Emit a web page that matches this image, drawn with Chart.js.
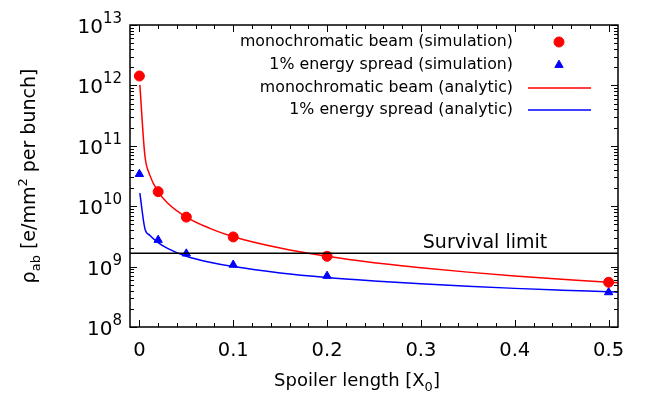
<!DOCTYPE html>
<html lang="en">
<head>
  <meta charset="UTF-8" />
  <title>Spoiler energy density</title>
  <script src="https://cdn.jsdelivr.net/npm/chart.js"></script>
  <style>
    html, body { margin: 0; padding: 0; background: #fff; }
    #wrap { width: 654px; height: 393px; position: relative; }
  </style>
</head>
<body>
  <div id="wrap"><canvas id="chart"></canvas></div>

  <script>
    // simulated points (spoiler length in X0)
    const xSim = [0, 0.02, 0.05, 0.1, 0.2, 0.5];
    const monoSim = [1.43e12, 1.74e10, 6.6e9, 3.1e9, 1.48e9, 5.5e8];
    const spreadSim = [3.4e10, 2.76e9, 1.64e9, 1.07e9, 7.0e8, 3.75e8];

    // analytic curves
    const xCurve = [0.0005, 0.0058, 0.011, 0.02, 0.03, 0.05, 0.075, 0.1, 0.15, 0.2, 0.25, 0.3, 0.35, 0.4, 0.45, 0.5, 0.51];
    const monoCurve = [1.02e12, 7.05e10, 3.3e10, 1.74e10, 1.13e10, 6.6e9, 4.3e9, 3.13e9, 2.03e9, 1.48e9, 1.16e9, 9.6e8, 8.1e8, 7.0e8, 6.2e8, 5.5e8, 5.4e8];
    const spreadCurve = [1.64e10, 4.3e9, 3.3e9, 2.5e9, 2.0e9, 1.48e9, 1.18e9, 1.0e9, 7.85e8, 6.6e8, 5.8e8, 5.2e8, 4.73e8, 4.36e8, 4.07e8, 3.82e8, 3.77e8];

    const survivalLimit = 1.66e9;
    const xRange = [-0.01, 0.51];
    const yRange = [1e8, 1e13];

    const xTicks = [0, 0.1, 0.2, 0.3, 0.4, 0.5];
    const xTickLabels = ["0", "0.1", "0.2", "0.3", "0.4", "0.5"];
    const yTickExps = [8, 9, 10, 11, 12, 13];

    const legendLabels = [
      "monochromatic beam (simulation)",
      "1% energy spread (simulation)",
      "monochromatic beam (analytic)",
      "1% energy spread (analytic)"
    ];

    const FONT = '"DejaVu Sans", sans-serif';

    function pts(xs, ys) {
      return xs.map((x, i) => ({ x: x, y: ys[i] }));
    }

    // frame, inward ticks, tick labels, titles, legend
    const decor = {
      id: "decor",
      afterDatasetsDraw(chart) {
        const ctx = chart.ctx;
        const a = chart.chartArea;
        const xs = chart.scales.x, ys = chart.scales.y;
        ctx.save();
        ctx.strokeStyle = "#000";
        ctx.lineWidth = 1;

        // x ticks, mirrored top
        for (let k = 0; k <= 25; k++) {
          const v = k * 0.02;
          const px = Math.round(xs.getPixelForValue(v)) + 0.5;
          const len = (k % 5 === 0) ? 7 : 4;
          ctx.beginPath();
          ctx.moveTo(px, a.bottom); ctx.lineTo(px, a.bottom - len);
          ctx.moveTo(px, a.top); ctx.lineTo(px, a.top + len);
          ctx.stroke();
        }
        // y ticks, mirrored right
        for (let e = 8; e <= 12; e++) {
          for (let m = 1; m <= 10; m++) {
            if (m === 10 && e < 12) continue;
            const v = m * Math.pow(10, e);
            const py = Math.round(ys.getPixelForValue(v)) + 0.5;
            const len = (m === 1 || m === 10) ? 7 : 4;
            ctx.beginPath();
            ctx.moveTo(a.left, py); ctx.lineTo(a.left + len, py);
            ctx.moveTo(a.right, py); ctx.lineTo(a.right - len, py);
            ctx.stroke();
          }
        }
        // frame
        ctx.lineWidth = 1.5;
        ctx.strokeRect(a.left, a.top, a.right - a.left, a.bottom - a.top);

        ctx.fillStyle = "#000";
        ctx.textBaseline = "alphabetic";

        // x tick labels
        ctx.font = "19.5px " + FONT;
        ctx.textAlign = "center";
        xTicks.forEach((v, i) => {
          ctx.fillText(xTickLabels[i], xs.getPixelForValue(v), 356);
        });

        // y tick labels 10^n
        yTickExps.forEach(e => {
          const py = ys.getPixelForValue(Math.pow(10, e));
          ctx.font = "20px " + FONT;
          const wb = ctx.measureText("10").width;
          ctx.font = "15px " + FONT;
          const we = ctx.measureText(String(e)).width;
          const right = 122;
          ctx.textAlign = "left";
          ctx.font = "20px " + FONT;
          ctx.fillText("10", right - wb - we, py + 8);
          ctx.font = "15px " + FONT;
          ctx.fillText(String(e), right - we, py - 2);
        });

        // x title with subscript
        const xParts = [["Spoiler length [X", 18, 0], ["0", 13, 5], ["]", 18, 0]];
        drawParts(ctx, xParts, 357, 386);

        // y title, rotated
        ctx.save();
        ctx.translate(35, (a.top + a.bottom) / 2);
        ctx.rotate(-Math.PI / 2);
        const yParts = [["\u03C1", 19, 0], ["ab", 13, 5], [" [e/mm", 19, 0], ["2", 13, -8], [" per bunch]", 19, 0]];
        drawParts(ctx, yParts, 0, 0);
        ctx.restore();

        // survival limit label
        ctx.font = "19px " + FONT;
        ctx.textAlign = "center";
        ctx.fillText("Survival limit", 485, 248);

        // legend
        const ds = chart.data.datasets;
        const rows = [42, 65, 88, 110];
        ctx.font = "15.8px " + FONT;
        ctx.textAlign = "right";
        ctx.textBaseline = "middle";
        for (let i = 0; i < 4; i++) {
          ctx.fillStyle = "#000";
          ctx.fillText(legendLabels[i], 513, rows[i]);
          const d = ds[i];
          if (d.showLine === false) {
            ctx.fillStyle = d.backgroundColor;
            ctx.strokeStyle = d.borderColor;
            ctx.lineWidth = 1;
            Chart.helpers.drawPoint(ctx, { pointStyle: d.pointStyle, radius: d.pointRadius, rotation: 0, borderWidth: 1 }, 559, rows[i]);
          } else {
            ctx.strokeStyle = d.borderColor;
            ctx.lineWidth = d.borderWidth;
            ctx.beginPath();
            ctx.moveTo(528, rows[i]); ctx.lineTo(591, rows[i]);
            ctx.stroke();
          }
        }
        ctx.restore();
      }
    };

    function drawParts(ctx, parts, cx, baseY) {
      let total = 0;
      parts.forEach(p => { ctx.font = p[1] + "px " + FONT; total += ctx.measureText(p[0]).width; });
      let x = cx - total / 2;
      ctx.textAlign = "left";
      ctx.textBaseline = "alphabetic";
      parts.forEach(p => {
        ctx.font = p[1] + "px " + FONT;
        ctx.fillText(p[0], x, baseY + p[2]);
        x += ctx.measureText(p[0]).width;
      });
    }

    new Chart(document.getElementById("chart"), {
      type: "line",
      data: {
        datasets: [
          {
            label: legendLabels[0],
            data: pts(xSim, monoSim),
            showLine: false,
            pointStyle: "circle",
            pointRadius: 5,
            backgroundColor: "#ff0000",
            borderColor: "#ff0000",
            pointBorderWidth: 1,
            order: 1
          },
          {
            label: legendLabels[1],
            data: pts(xSim, spreadSim),
            showLine: false,
            pointStyle: "triangle",
            pointRadius: 4.8,
            backgroundColor: "#0000ff",
            borderColor: "#0000ff",
            pointBorderWidth: 1,
            order: 2
          },
          {
            label: legendLabels[2],
            data: pts(xCurve, monoCurve),
            borderColor: "#ff0000",
            borderWidth: 1.5,
            pointRadius: 0,
            cubicInterpolationMode: "monotone",
            fill: false,
            order: 3
          },
          {
            label: legendLabels[3],
            data: pts(xCurve, spreadCurve),
            borderColor: "#0000ff",
            borderWidth: 1.5,
            pointRadius: 0,
            cubicInterpolationMode: "monotone",
            fill: false,
            order: 4
          },
          {
            label: "Survival limit",
            data: pts(xRange, [survivalLimit, survivalLimit]),
            borderColor: "#000000",
            borderWidth: 1.5,
            pointRadius: 0,
            fill: false,
            order: 0
          }
        ]
      },
      options: {
        responsive: true,
        maintainAspectRatio: false,
        animation: false,
        layout: { padding: { left: 130, right: 36, top: 25, bottom: 66 } },
        scales: {
          x: { type: "linear", min: xRange[0], max: xRange[1], display: false },
          y: { type: "logarithmic", min: yRange[0], max: yRange[1], display: false }
        },
        plugins: {
          legend: { display: false },
          tooltip: { enabled: false }
        }
      },
      plugins: [decor]
    });
  </script>
</body>
</html>
